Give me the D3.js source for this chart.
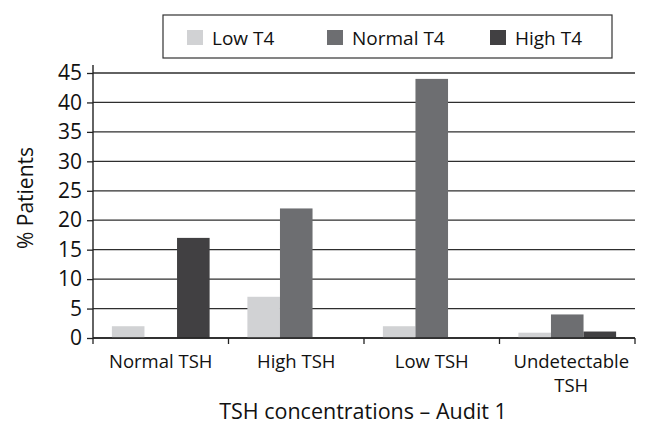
<!DOCTYPE html>
<html>
<head>
<meta charset="utf-8">
<script src="https://cdn.jsdelivr.net/npm/d3@7"></script>
<style>
body { margin: 0; background: #fff; }
text { font-family: "Open Sans", "Noto Sans", sans-serif; fill: #111; }
</style>
</head>
<body>
<div id="chart"></div>
<script>
// data
let categories = [["Normal TSH"], ["High TSH"], ["Low TSH"], ["Undetectable", "TSH"]];
let seriesNames = ["Low T4", "Normal T4", "High T4"];
let lowT4 = [2, 7, 2, 0.9];
let normalT4 = [0, 22, 44, 4];
let highT4 = [17, 0, 0, 1.1];
let yTicks = [0, 5, 10, 15, 20, 25, 30, 35, 40, 45];
let colors = ["#d1d2d4", "#6d6e71", "#414042"];

let series = [lowT4, normalT4, highT4];

let svg = d3.select("#chart")
    .append("svg")
    .attr("width", 654)
    .attr("height", 426);

let pLeft = 93, pRight = 635, pTop = 73, pBottom = 338;

let xScale = d3.scaleBand()
    .domain(d3.range(categories.length))
    .range([pLeft, pRight]);

let xInner = d3.scaleBand()
    .domain(d3.range(seriesNames.length))
    .range([0, xScale.bandwidth()])
    .paddingOuter(0.58)
    .paddingInner(0);

let yScale = d3.scaleLinear()
    .domain([0, 45])
    .range([pBottom, pTop]);

// gridlines
svg.append("g")
    .selectAll("line")
    .data(yTicks)
    .enter()
    .append("line")
    .attr("x1", pLeft)
    .attr("x2", pRight)
    .attr("y1", d => yScale(d))
    .attr("y2", d => yScale(d))
    .attr("stroke", "#2e2e2e")
    .attr("stroke-width", 1.3);

// bars
categories.forEach(function(c, i) {
    series.forEach(function(s, j) {
        if (s[i] <= 0) return;
        svg.append("rect")
            .attr("x", xScale(i) + xInner(j))
            .attr("y", yScale(s[i]))
            .attr("width", xInner.bandwidth())
            .attr("height", pBottom - yScale(s[i]))
            .attr("fill", colors[j]);
    });
});

// y axis
let yAxis = d3.axisLeft(yScale).tickValues(yTicks).tickSize(6).tickPadding(5);
let gy = svg.append("g")
    .attr("transform", "translate(" + pLeft + ",0)")
    .call(yAxis);
gy.select(".domain").attr("stroke", "#222").attr("stroke-width", 1.4)
    .attr("d", "M0," + (pTop - 8) + "V" + pBottom);
gy.selectAll(".tick line").attr("stroke", "#222").attr("stroke-width", 1.3);
gy.selectAll(".tick text")
    .style("font-family", "'Open Sans', sans-serif")
    .style("font-size", "21px")
    .attr("fill", "#111");

// x axis
let gx = svg.append("g")
    .attr("transform", "translate(0," + pBottom + ")");
gx.append("line")
    .attr("x1", pLeft).attr("x2", pRight)
    .attr("stroke", "#222").attr("stroke-width", 1.4);
let bounds = d3.range(categories.length + 1).map(i => i < categories.length ? xScale(i) : pRight);
gx.selectAll(".xt")
    .data(bounds)
    .enter()
    .append("line")
    .attr("x1", d => d).attr("x2", d => d)
    .attr("y1", 0).attr("y2", 6)
    .attr("stroke", "#222").attr("stroke-width", 1.3);

categories.forEach(function(c, i) {
    c.forEach(function(line, k) {
        svg.append("text")
            .attr("text-anchor", "middle")
            .style("font-size", "18.5px")
            .attr("x", xScale(i) + xScale.bandwidth() / 2 + (i == 3 ? 4 : 0))
            .attr("y", 368 + k * 24)
            .text(line);
    });
});

// axis titles
svg.append("text")
    .attr("x", 363)
    .attr("y", 419)
    .attr("text-anchor", "middle")
    .style("font-size", "21.5px")
    .text("TSH concentrations \u2013 Audit 1");

svg.append("g")
    .attr("transform", "translate(33,198) rotate(-90)")
    .append("text")
    .attr("text-anchor", "middle")
    .style("font-size", "21px")
    .text("% Patients");

// legend
let lg = svg.append("g");
lg.append("rect")
    .attr("x", 163).attr("y", 15)
    .attr("width", 449).attr("height", 43)
    .attr("fill", "#fff")
    .attr("stroke", "#333").attr("stroke-width", 1.2);
let legX = [187, 327, 490];
seriesNames.forEach(function(n, j) {
    lg.append("rect")
        .attr("x", legX[j]).attr("y", 30)
        .attr("width", 16).attr("height", 15)
        .attr("fill", colors[j]);
    lg.append("text")
        .attr("x", legX[j] + 25).attr("y", 45)
        .style("font-size", "19px")
        .text(n);
});
</script>
</body>
</html>
